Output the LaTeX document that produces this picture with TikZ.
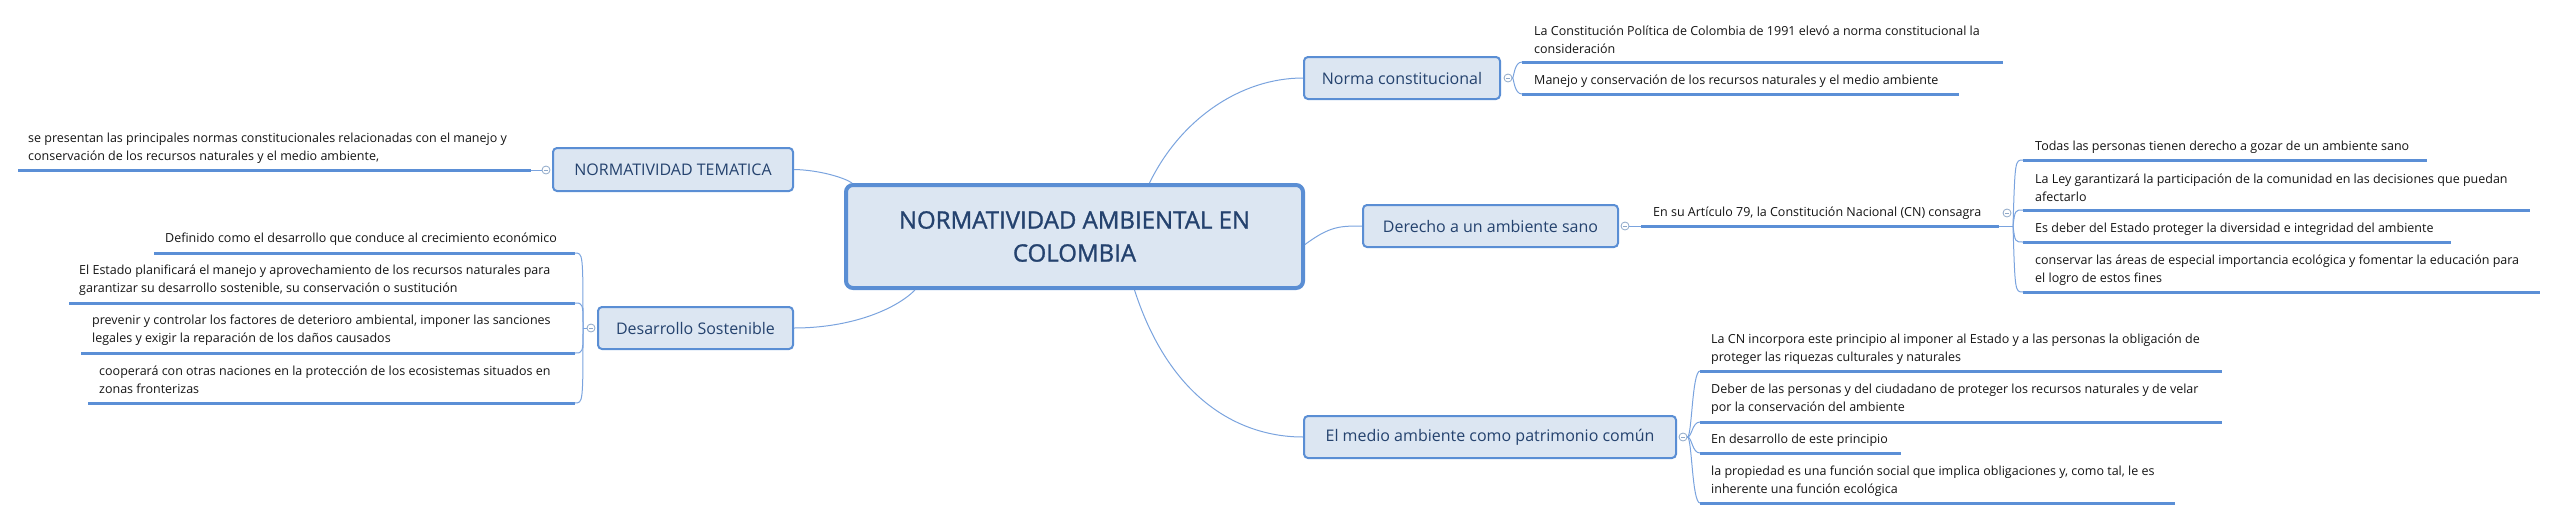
\documentclass[tikz,border=0pt]{standalone}
\usepackage{fontspec}
\setmainfont{Open Sans}
\newfontfamily\centralfont[FakeBold=1.2]{Open Sans}
\definecolor{boxfill}{HTML}{DCE6F2}
\definecolor{boxline}{HTML}{5A8ED4}
\definecolor{boxtext}{HTML}{24426E}
\definecolor{leafcol}{HTML}{141414}
\definecolor{ulcol}{HTML}{5B8FD6}
\definecolor{conncol}{HTML}{7AA3DE}
\definecolor{circcol}{HTML}{8FA8C8}
\newcommand\leaf[7]{%
  \node[leaftext,anchor=west] (#1) at (#2,#3) {#4};
  \draw[uline] (#5,#7) coordinate (#1s) -- (#6,#7) coordinate (#1e);}
\begin{document}
\begin{tikzpicture}[x=1pt,y=-1pt,
  leaftext/.style={inner sep=0pt,align=left,text=leafcol,font=\fontsize{12.5}{18}\selectfont},
  uline/.style={draw=ulcol,line width=3pt},
  branch/.style={draw=boxline,line width=2pt,fill=boxfill,rounded corners=4pt,text=boxtext,
    font=\fontsize{16}{20}\selectfont,inner sep=0pt},
  central/.style={draw=boxline,line width=4pt,fill=boxfill,rounded corners=7pt,text=boxtext,
    font=\centralfont\fontsize{24}{33}\selectfont,align=center,inner sep=0pt},
  conn/.style={draw=conncol,line width=1pt},
  collapse/.style={circle,draw=circcol,fill=white,line width=0.8pt,minimum size=8pt,inner sep=0pt,
    path picture={\draw[circcol,line width=0.8pt] ([xshift=-2pt]path picture bounding box.center) -- ([xshift=2pt]path picture bounding box.center);}}
]
\useasboundingbox (0,0) rectangle (2558,520);
% central
\node[central,minimum width=457pt,minimum height=103pt] (c) at (1074.5,236.5) {NORMATIVIDAD AMBIENTAL EN\\COLOMBIA};
% branches
\node[branch,minimum width=240pt,minimum height=43pt] (nt) at (673,169.5) {NORMATIVIDAD TEMATICA};
\node[branch,minimum width=195pt,minimum height=42pt] (ds) at (695.5,328) {Desarrollo Sostenible};
\node[branch,minimum width=196pt,minimum height=42pt] (nc) at (1402,78) {Norma constitucional};
\node[branch,minimum width=255pt,minimum height=42pt] (da) at (1490.5,226) {Derecho a un ambiente sano};
\node[branch,minimum width=372pt,minimum height=42pt] (ma) at (1490,437) {El medio ambiente como patrimonio común};
% central connectors
\draw[conn] (nt.east) .. controls (820,170) and (845,178) .. ([xshift=8pt]c.north west);
\draw[conn] (ds.east) .. controls (850,328) and (895,310) .. ([xshift=71pt]c.south west);
\draw[conn] ([xshift=75pt]c.north) .. controls (1180,120) and (1240,78) .. (nc.west);
\draw[conn] ([yshift=-8pt]c.east) .. controls (1330,226) and (1340,226) .. (da.west);
\draw[conn] ([xshift=60pt]c.south) .. controls (1170,400) and (1240,437) .. (ma.west);
% NT leaf
\node[collapse] (cnt) at (546,170) {};
\leaf{l1}{28}{148}{se presentan las principales normas constitucionales relacionadas con el manejo y\\conservación de los recursos naturales y el medio ambiente,}{18}{531}{170}
\draw[conn] (cnt.west) -- (l1e);
% Desarrollo leaves
\node[collapse] (cds) at (591,328) {};
\leaf{d1}{165}{239}{Definido como el desarrollo que conduce al crecimiento económico}{154}{575}{253}
\leaf{d2}{79}{280}{El Estado planificará el manejo y aprovechamiento de los recursos naturales para\\garantizar su desarrollo sostenible, su conservación o sustitución}{69}{575}{303}
\leaf{d3}{92}{330}{prevenir y controlar los factores de deterioro ambiental, imponer las sanciones\\legales y exigir la reparación de los daños causados}{81}{575}{353}
\leaf{d4}{99}{380}{cooperará con otras naciones en la protección de los ecosistemas situados en\\zonas fronterizas}{88}{575}{403}
\coordinate (db) at (583,328);
\draw[conn] (cds.west) -- (db);
\foreach \n/\y in {d1/253,d2/303,d3/353,d4/403}{\draw[conn] (db) .. controls (583,\y) and (583,\y) .. (\n e);}
% Norma leaves
\node[collapse] (cnc) at (1508,78) {};
\leaf{n1}{1534}{40}{La Constitución Política de Colombia de 1991 elevó a norma constitucional la\\consideración}{1522}{2003}{62}
\leaf{n2}{1534}{81}{Manejo y conservación de los recursos naturales y el medio ambiente}{1522}{1959}{94}
\foreach \n/\y in {n1/62,n2/94}{\draw[conn] (cnc.east) .. controls (1514,78) and (1514,\y) .. (\n s);}
% Derecho leaves
\node[collapse] (cda) at (1625,226) {};
\leaf{e1}{1653}{213}{En su Artículo 79, la Constitución Nacional (CN) consagra}{1641}{1999}{226}
\draw[conn] (cda.east) -- (e1s);
\coordinate (eb) at (2013,226);
\draw[conn] (e1e) -- (eb);
\node[collapse] (ce1) at (2007,213) {};
\leaf{f1}{2035}{147}{Todas las personas tienen derecho a gozar de un ambiente sano}{2023}{2427}{160}
\leaf{f2}{2035}{187.5}{La Ley garantizará la participación de la comunidad en las decisiones que puedan\\afectarlo}{2023}{2530}{210}
\leaf{f3}{2035}{229}{Es deber del Estado proteger la diversidad e integridad del ambiente}{2023}{2451}{242}
\leaf{f4}{2035}{270}{conservar las áreas de especial importancia ecológica y fomentar la educación para\\el logro de estos fines}{2023}{2540}{292}
\foreach \n/\y in {f1/160,f2/210,f3/242,f4/292}{\draw[conn] (eb) .. controls (2015,\y) and (2015,\y) .. (\n s);}
% Medio leaves
\node[collapse] (cma) at (1683,437) {};
\leaf{m1}{1711}{349}{La CN incorpora este principio al imponer al Estado y a las personas la obligación de\\proteger las riquezas culturales y naturales}{1700}{2222}{371}
\leaf{m2}{1711}{399}{Deber de las personas y del ciudadano de proteger los recursos naturales y de velar\\por la conservación del ambiente}{1700}{2222}{422}
\leaf{m3}{1711}{440}{En desarrollo de este principio}{1700}{1901}{453}
\leaf{m4}{1711}{481}{la propiedad es una función social que implica obligaciones y, como tal, le es\\inherente una función ecológica}{1700}{2175}{503}
\foreach \n/\y in {m1/371,m2/422,m3/453,m4/503}{\draw[conn] (cma.east) .. controls (1692,437) and (1692,\y) .. (\n s);}
\end{tikzpicture}
\end{document}
